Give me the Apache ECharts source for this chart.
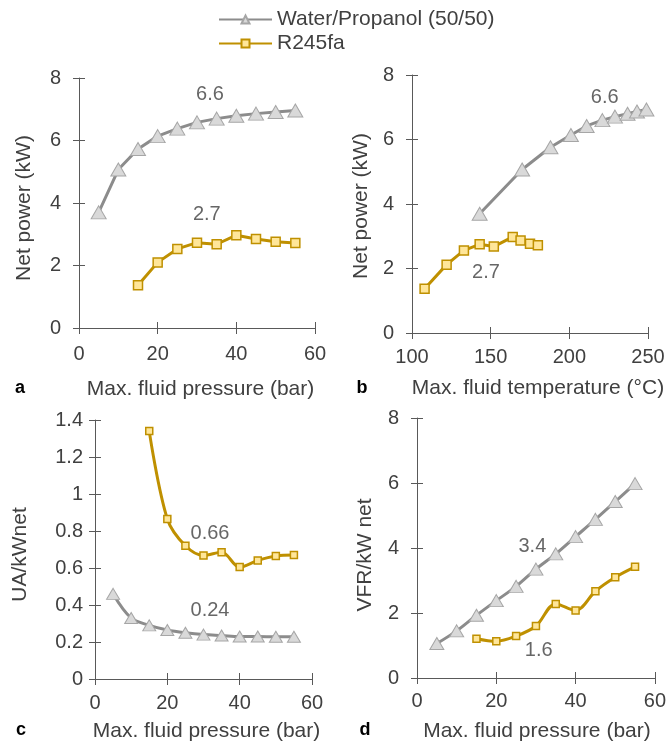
<!DOCTYPE html>
<html><head><meta charset="utf-8">
<script src="https://cdn.jsdelivr.net/npm/echarts@6/dist/echarts.min.js"></script>
<style>html,body{margin:0;padding:0;background:#fff}#c{width:669px;height:747px}</style>
</head><body><div id="c"></div>
<script>
// ---- data ----
const seriesNames = ['Water/Propanol (50/50)', 'R245fa'];
const pressureWater = [5, 10, 15, 20, 25, 30, 35, 40, 45, 50, 55];
const pressureR245 = [15, 20, 25, 30, 35, 40, 45, 50, 55];

// (a) net power vs max pressure
const powerWaterA = [3.7, 5.07, 5.73, 6.14, 6.38, 6.58, 6.7, 6.79, 6.86, 6.91, 6.96];
const powerR245A = [1.37, 2.1, 2.53, 2.73, 2.68, 2.97, 2.85, 2.76, 2.72];

// (b) net power vs max temperature
const tempWater = [143, 170, 188, 201, 211, 221, 229, 237, 243, 249];
const powerWaterB = [3.7, 5.07, 5.76, 6.14, 6.42, 6.6, 6.71, 6.8, 6.87, 6.93];
const tempR245 = [108, 122, 133, 143, 152, 164, 169, 175, 180];
const powerR245B = [1.37, 2.12, 2.56, 2.75, 2.68, 2.98, 2.87, 2.77, 2.72];

// (c) UA per kW net vs max pressure
const uaWater = [0.46, 0.33, 0.29, 0.265, 0.25, 0.24, 0.235, 0.23, 0.23, 0.228, 0.228];
const uaR245 = [1.34, 0.865, 0.72, 0.668, 0.685, 0.605, 0.641, 0.665, 0.67];

// (d) VFR per kW net vs max pressure
const vfrWater = [1.06, 1.45, 1.93, 2.38, 2.82, 3.35, 3.82, 4.35, 4.88, 5.43, 5.98];
const vfrR245 = [1.21, 1.13, 1.29, 1.6, 2.28, 2.08, 2.67, 3.1, 3.42];

// annotations: [x, y, text]
const annotA = [[33.3, 7.48, '6.6'], [32.5, 3.62, '2.7']];
const annotB = [[222.5, 7.31, '6.6'], [147, 1.89, '2.7']];
const annotC = [[31.8, 0.787, '0.66'], [31.8, 0.373, '0.24']];
const annotD = [[29.1, 4.04, '3.4'], [30.7, 0.85, '1.6']];

// axis ranges: [min, max, interval]
const axX = [[0, 60, 20], [100, 250, 50], [0, 60, 20], [0, 60, 20]];
const axY = [[0, 8, 2], [0, 8, 2], [0, 1.4, 0.2], [0, 8, 2]];
const xTitles = ['Max. fluid pressure (bar)', 'Max. fluid temperature (°C)', 'Max. fluid pressure (bar)', 'Max. fluid pressure (bar)'];
const yTitles = ['Net power (kW)', 'Net power (kW)', 'UA/kWnet', 'VFR/kW net'];
const panelLetters = ['a', 'b', 'c', 'd'];

// ---- layout / style ----
const FONT = '"Liberation Sans", Arial, sans-serif';
const TXT = '#404040';
const AX = '#595959';
const TICK_FS = 20, TITLE_FS = 21;
const grids = [
  {left: 79, top: 78, width: 236, height: 250},
  {left: 412, top: 75, width: 236, height: 258},
  {left: 95, top: 420, width: 217, height: 259},
  {left: 417, top: 418, width: 241, height: 260}
];
const xLabelMargin = [16, 14, 14, 13];
const xNameGap = [51, 45, 42, 43];
const xNamePad = [[0, 0, 0, 7], [0, 0, 0, 16], [0, 0, 0, 6], [0, 0, 0, 2]];
const yLabelMargin = [18, 18, 12, 18];
const yNameGap = [44, 40, 64, 41];
const yNamePad = [[0, 10, 0, 0], [0, 4, 0, 0], [0, 10, 0, 0], [0, 14, 0, 0]];
const letterPos = [[20, 388], [362, 388], [21, 730], [365, 730]];

const zip = (xs, ys) => xs.map((x, i) => [x, ys[i]]);

const xAxes = [], yAxes = [];
for (let g = 0; g < 4; g++) {
  const common = (r) => ({min: r[0], max: r[1], interval: r[2], gridIndex: g, splitLine: {show: false}});
  xAxes.push(Object.assign(common(axX[g]), {
    type: 'value', position: 'bottom',
    axisLine: {show: true, onZero: false, lineStyle: {color: AX, width: 1}},
    axisTick: {show: true, inside: false, length: 6, lineStyle: {color: AX, width: 1}},
    axisLabel: {fontSize: TICK_FS, color: TXT, fontFamily: FONT, margin: xLabelMargin[g]},
    name: xTitles[g], nameLocation: 'middle', nameGap: xNameGap[g],
    nameTextStyle: {fontSize: TITLE_FS, color: TXT, fontFamily: FONT, padding: xNamePad[g]}
  }));
  xAxes.push(Object.assign(common(axX[g]), {
    type: 'value', position: 'bottom',
    axisLine: {show: false, onZero: false},
    axisTick: {show: true, inside: true, length: 6, lineStyle: {color: AX, width: 1}},
    axisLabel: {show: false}
  }));
  yAxes.push(Object.assign(common(axY[g]), {
    type: 'value', position: 'left',
    axisLine: {show: true, onZero: false, lineStyle: {color: AX, width: 1}},
    axisTick: {show: true, inside: false, length: 6, lineStyle: {color: AX, width: 1}},
    axisLabel: {fontSize: TICK_FS, color: TXT, fontFamily: FONT, margin: yLabelMargin[g]},
    name: yTitles[g], nameLocation: 'middle', nameGap: yNameGap[g],
    nameTextStyle: {fontSize: TITLE_FS, color: TXT, fontFamily: FONT, padding: yNamePad[g]}
  }));
  yAxes.push(Object.assign(common(axY[g]), {
    type: 'value', position: 'left',
    axisLine: {show: false, onZero: false},
    axisTick: {show: true, inside: true, length: 6, lineStyle: {color: AX, width: 1}},
    axisLabel: {show: false}
  }));
}

function waterSeries(g, data, smooth, size) {
  return {
    type: 'line', name: seriesNames[0], xAxisIndex: 2 * g, yAxisIndex: 2 * g, data: data,
    smooth: smooth, symbol: 'triangle', symbolSize: size, z: 3,
    color: '#8c8c8c',
    lineStyle: {color: '#8c8c8c', width: 3},
    itemStyle: {color: '#d9d9d9', borderColor: '#a6a6a6', borderWidth: 1}
  };
}
function r245Series(g, data, smooth, size) {
  return {
    type: 'line', name: seriesNames[1], xAxisIndex: 2 * g, yAxisIndex: 2 * g, data: data,
    smooth: smooth, symbol: 'rect', symbolSize: size, z: 4,
    color: '#bf9000',
    lineStyle: {color: '#bf9000', width: 3},
    itemStyle: {color: '#ffe699', borderColor: '#bf9000', borderWidth: 1.5}
  };
}
function annotSeries(g, data) {
  return {
    type: 'scatter', xAxisIndex: 2 * g, yAxisIndex: 2 * g, data: data, silent: true,
    symbolSize: 1, itemStyle: {color: 'rgba(0,0,0,0)'}, z: 5,
    label: {show: true, position: 'inside', formatter: p => p.data[2],
      fontSize: TICK_FS, color: TXT, fontFamily: FONT}
  };
}

const series = [
  waterSeries(0, zip(pressureWater, powerWaterA), false, [15, 13]),
  r245Series(0, zip(pressureR245, powerR245A), false, 9),
  annotSeries(0, annotA),
  waterSeries(1, zip(tempWater, powerWaterB), false, [15, 13]),
  r245Series(1, zip(tempR245, powerR245B), false, 9),
  annotSeries(1, annotB),
  waterSeries(2, zip(pressureWater, uaWater), 0.35, [13, 11]),
  r245Series(2, zip(pressureR245, uaR245), 0.35, 7),
  annotSeries(2, annotC),
  waterSeries(3, zip(pressureWater, vfrWater), 0.35, [14, 12]),
  r245Series(3, zip(pressureR245, vfrR245), 0.35, 7),
  annotSeries(3, annotD)
];

const graphics = panelLetters.map((t, i) => ({
  type: 'text', x: letterPos[i][0], y: letterPos[i][1],
  style: {text: t, font: 'bold 18px ' + FONT, fill: '#000', align: 'center', verticalAlign: 'middle'}
}));

const chart = echarts.init(document.getElementById('c'), null, {renderer: 'canvas'});
chart.setOption({
  backgroundColor: '#fff',
  animation: false,
  textStyle: {fontFamily: FONT},
  legend: {
    data: seriesNames, orient: 'vertical', left: 213, top: 4,
    itemWidth: 53, itemHeight: 10, itemGap: 3,
    textStyle: {fontSize: TITLE_FS, color: TXT, fontFamily: FONT}
  },
  grid: grids,
  xAxis: xAxes,
  yAxis: yAxes,
  series: series,
  graphic: graphics
});
</script>
</body></html>
